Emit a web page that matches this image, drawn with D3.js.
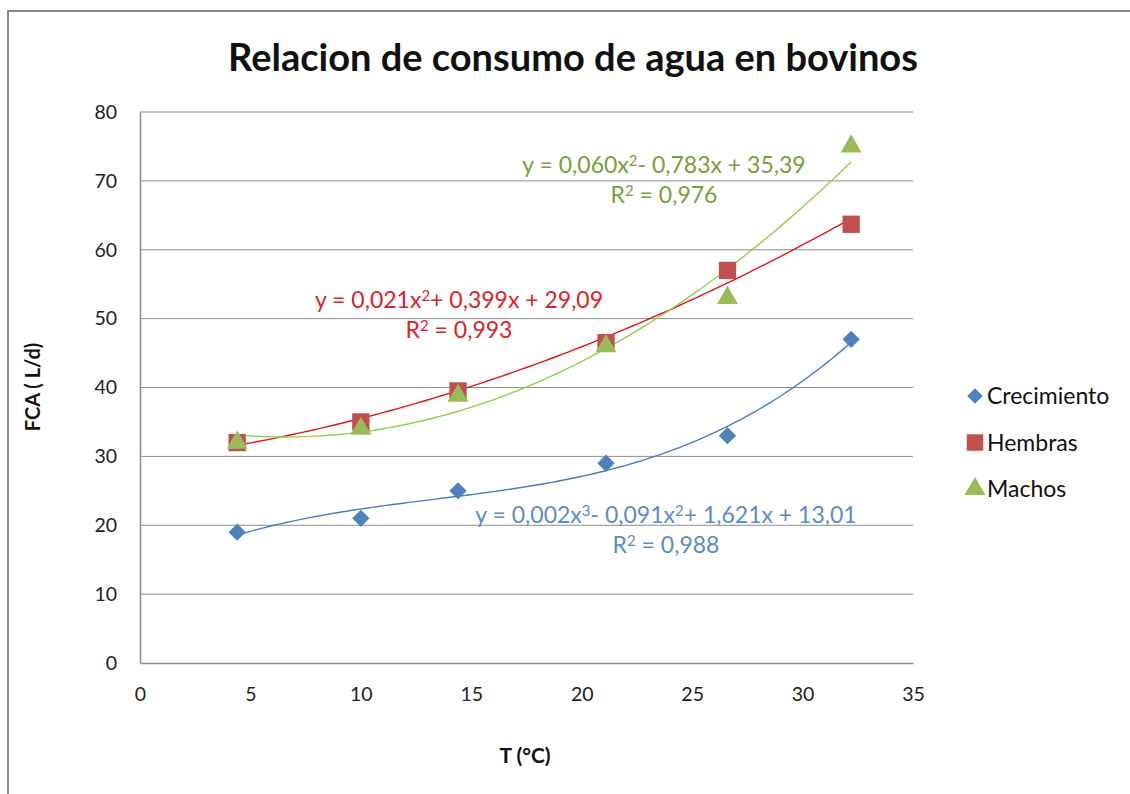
<!DOCTYPE html>
<html lang="es">
<head>
  <meta charset="UTF-8">
  <title>Relacion de consumo de agua en bovinos</title>
  <style>
    html, body { margin: 0; padding: 0; background: #fff; }
    svg { display: block; font-family: Lato, "Open Sans", sans-serif; }
  </style>
</head>
<body>
<div id="chart"></div>
<script src="https://d3js.org/d3.v7.min.js"></script>
<script>
  // values
  const temps = [4.4, 10.0, 14.4, 21.1, 26.6, 32.2];
  const crecimiento = [19, 21, 25, 29, 33, 47];
  const hembras = [32, 35, 39.5, 46.5, 57, 63.7];
  const machos = [32, 34, 38.8, 46, 53, 75];

  const xTicks = [0, 5, 10, 15, 20, 25, 30, 35];
  const yTicks = [0, 10, 20, 30, 40, 50, 60, 70, 80];

  const seriesNames = ['Crecimiento', 'Hembras', 'Machos'];
  const equations = [
    ['y = 0,002x³- 0,091x²+ 1,621x + 13,01', 'R² = 0,988'],
    ['y = 0,021x²+ 0,399x + 29,09', 'R² = 0,993'],
    ['y = 0,060x²- 0,783x + 35,39', 'R² = 0,976']
  ];

  const width = 1130;
  const height = 794;
  const margin = { left: 140, right: 217, top: 112, bottom: 131 };

  const diamond = d3.symbolSquare;
  const series = [
    { name: seriesNames[0], values: crecimiento, degree: 3, color: '#4F81BD', line: '#4A7EBB', text: '#5B8BC9', shape: diamond, rot: 45, size: 150, eq: equations[0], eqPos: [666, 515] },
    { name: seriesNames[1], values: hembras, degree: 2, color: '#C0504D', line: '#E3141B', text: '#D9242A', shape: d3.symbolSquare, rot: 0, size: 300, eq: equations[1], eqPos: [459, 300] },
    { name: seriesNames[2], values: machos, degree: 2, color: '#9BBB59', line: '#92D050', text: '#77A03A', shape: d3.symbolTriangle, rot: 0, size: 190, eq: equations[2], eqPos: [664, 165] }
  ];

  // least squares polynomial fit (like the spreadsheet trendline)
  const polyfit = (xs, ys, deg) => {
    const n = deg + 1;
    const A = [];
    for (let i = 0; i < n; i++) {
      const row = [];
      for (let j = 0; j < n; j++) row.push(d3.sum(xs, x => Math.pow(x, i + j)));
      row.push(d3.sum(xs, (x, k) => ys[k] * Math.pow(x, i)));
      A.push(row);
    }
    for (let c = 0; c < n; c++) {
      let p = c;
      for (let r = c + 1; r < n; r++) if (Math.abs(A[r][c]) > Math.abs(A[p][c])) p = r;
      [A[c], A[p]] = [A[p], A[c]];
      for (let r = 0; r < n; r++) {
        if (r === c) continue;
        const f = A[r][c] / A[c][c];
        for (let k = c; k <= n; k++) A[r][k] -= f * A[c][k];
      }
    }
    return A.map((row, i) => row[n] / row[i]);
  };

  const svg = d3.select('#chart').append('svg')
    .attr('width', width)
    .attr('height', height);

  // outer chart border
  svg.append('rect')
    .attr('x', 8).attr('y', 11)
    .attr('width', width).attr('height', height)
    .attr('fill', 'none')
    .attr('stroke', '#8c8c8c')
    .attr('stroke-width', 2);

  const x = d3.scaleLinear().domain([0, 35]).range([margin.left, width - margin.right]);
  const y = d3.scaleLinear().domain([0, 80]).range([height - margin.bottom, margin.top]);

  // grid
  svg.append('g')
    .selectAll('line')
    .data(yTicks.filter(d => d > 0))
    .join('line')
    .attr('x1', x(0)).attr('x2', x(35))
    .attr('y1', d => y(d)).attr('y2', d => y(d))
    .attr('stroke', '#8c8c8c')
    .attr('stroke-width', 1);

  const xAxis = svg.append('g')
    .attr('transform', `translate(0,${y(0)})`)
    .call(d3.axisBottom(x).tickValues(xTicks).tickSize(0).tickPadding(24));
  xAxis.select('.domain').attr('stroke', '#8c8c8c').attr('stroke-width', 1.5);

  const yAxis = svg.append('g')
    .attr('transform', `translate(${x(0)},0)`)
    .call(d3.axisLeft(y).tickValues(yTicks).tickSize(0).tickPadding(23));
  yAxis.select('.domain').attr('stroke', '#8c8c8c').attr('stroke-width', 1.5);

  svg.selectAll('.tick text')
    .attr('font-size', 19.5)
    .attr('font-family', 'Lato, "Open Sans", sans-serif')
    .attr('fill', '#222');

  // trendlines
  const line = d3.line().x(d => x(d[0])).y(d => y(d[1]));
  series.forEach(s => {
    const coef = polyfit(temps, s.values, s.degree);
    const x0 = d3.min(temps), x1 = d3.max(temps);
    const pts = d3.range(0, 101).map(i => {
      const t = x0 + (x1 - x0) * i / 100;
      return [t, d3.sum(coef, (c, k) => c * Math.pow(t, k))];
    });
    svg.append('path')
      .datum(pts)
      .attr('d', line)
      .attr('fill', 'none')
      .attr('stroke', s.line)
      .attr('stroke-width', 1.4);
  });

  // markers
  series.forEach(s => {
    svg.append('g')
      .selectAll('path')
      .data(s.values)
      .join('path')
      .attr('transform', (d, i) => `translate(${x(temps[i])},${y(d)}) rotate(${s.rot})`)
      .attr('d', d3.symbol().type(s.shape).size(s.size))
      .attr('fill', s.color);
  });

  // equation labels, superscripts drawn as raised small digits
  const addRich = (textSel, str, px, py) => {
    const parts = str.split(/([²³])/);
    let first = true;
    let pendingDy = 0;
    parts.forEach(p => {
      if (!p) return;
      const t = textSel.append('tspan');
      if (first) { t.attr('x', px).attr('y', py); first = false; }
      if (p === '²' || p === '³') {
        t.attr('font-size', 15).attr('dy', -7 + pendingDy).text(p === '²' ? '2' : '3');
        pendingDy = 7;
      } else {
        if (pendingDy) t.attr('dy', pendingDy);
        pendingDy = 0;
        t.text(p);
      }
    });
  };

  series.forEach(s => {
    const t1 = svg.append('text')
      .attr('text-anchor', 'middle')
      .attr('fill', s.text)
      .attr('font-size', 23);
    addRich(t1, s.eq[0], s.eqPos[0], s.eqPos[1] + 8);
    const t2 = svg.append('text')
      .attr('text-anchor', 'middle')
      .attr('fill', s.text)
      .attr('font-size', 23);
    addRich(t2, s.eq[1], s.eqPos[0], s.eqPos[1] + 38);
  });

  // title
  svg.append('text')
    .attr('x', 573).attr('y', 71)
    .attr('text-anchor', 'middle')
    .attr('font-size', 38)
    .attr('font-weight', 'bold')
    .attr('fill', '#111')
    .text('Relacion de consumo de agua en bovinos');

  // axis titles
  svg.append('text')
    .attr('x', 525).attr('y', 763)
    .attr('text-anchor', 'middle')
    .attr('font-size', 21)
    .attr('font-weight', 'bold')
    .attr('fill', '#111')
    .text('T (°C)');

  svg.append('text')
    .attr('transform', 'translate(40,387) rotate(-90)')
    .attr('text-anchor', 'middle')
    .attr('font-size', 20)
    .attr('font-weight', 'bold')
    .attr('fill', '#111')
    .text('FCA ( L/d)');

  // legend
  const legend = svg.append('g')
    .selectAll('g')
    .data(series)
    .join('g')
    .attr('transform', (d, i) => `translate(975,${396 + i * 46.5})`);
  legend.append('path')
    .attr('transform', s => `rotate(${s.rot})`)
    .attr('d', s => d3.symbol().type(s.shape).size(s.rot ? 120 : (s.shape === d3.symbolTriangle ? 190 : 270))())
    .attr('fill', s => s.color);
  legend.append('text')
    .attr('x', 12).attr('y', 8)
    .attr('font-size', 23)
    .attr('fill', '#111')
    .text(s => s.name);
</script>
</body>
</html>
